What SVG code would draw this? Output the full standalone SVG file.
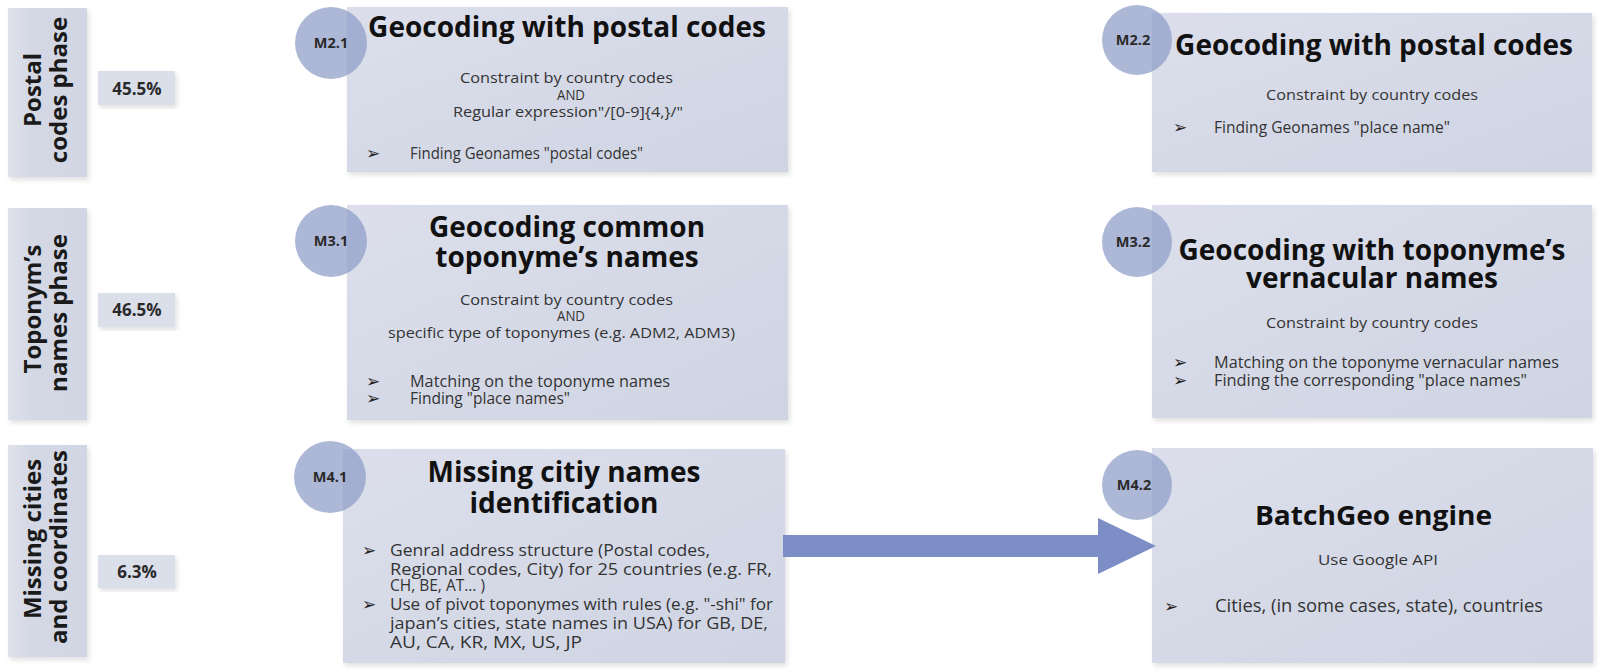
<svg xmlns="http://www.w3.org/2000/svg" width="1605" height="671" viewBox="0 0 1605 671">
<defs>
<linearGradient id="boxg" x1="0" y1="0" x2="1" y2="1">
<stop offset="0" stop-color="#dcdfeb"/>
<stop offset="1" stop-color="#cfd4e3"/>
</linearGradient>
<linearGradient id="phg" x1="0" y1="0" x2="1" y2="0">
<stop offset="0" stop-color="#dfe2ec"/>
<stop offset="0.3" stop-color="#d4d8e5"/>
<stop offset="1" stop-color="#d2d6e4"/>
</linearGradient>
<filter id="sh" x="-5%" y="-5%" width="115%" height="115%">
<feDropShadow dx="2" dy="3" stdDeviation="2.5" flood-color="#000" flood-opacity="0.12"/>
</filter>
</defs>
<style>
.box{fill:url(#boxg);filter:url(#sh)}
.phase{fill:url(#phg);filter:url(#sh)}
.pct{fill:#dbdfea;filter:url(#sh)}
.circ{fill:#8e9cc8;opacity:0.72}
.ph{font-family:"Open Sans","Liberation Sans",sans-serif;font-weight:bold;font-size:24px;fill:#1a1a1a;text-anchor:middle}
.pt{font-family:"Open Sans","Liberation Sans",sans-serif;font-weight:bold;font-size:17px;fill:#2a2a2a;text-anchor:middle}
.cl{font-family:"Open Sans","Liberation Sans",sans-serif;font-weight:bold;font-size:14.5px;fill:#2a2a2a;text-anchor:middle}
.ti{font-family:"Open Sans","Liberation Sans",sans-serif;font-weight:bold;font-size:28px;fill:#111;text-anchor:middle}
.bd{font-family:"Open Sans","Liberation Sans",sans-serif;font-size:15px;fill:#333}
.bl{font-family:"Open Sans","Liberation Sans",sans-serif;font-size:15.5px;fill:#333}
.ar{font-family:"DejaVu Sans",sans-serif;font-size:17px;fill:#222}
.arrow{fill:#7d8ec6}
</style>

<g id="phase-postal">
<rect class="phase" x="8" y="8" width="79" height="169"/>
<text class="ph" transform="translate(41,90) rotate(-90)">Postal</text>
<text class="ph" transform="translate(67,90) rotate(-90)">codes phase</text>
</g>
<g id="pct-postal">
<rect class="pct" x="98" y="71" width="77" height="34"/>
<text class="pt" x="137" y="95">45.5%</text>
</g>

<g id="phase-toponym">
<rect class="phase" x="8" y="208" width="79" height="212"/>
<text class="ph" transform="translate(41,309) rotate(-90)">Toponym’s</text>
<text class="ph" transform="translate(67,313) rotate(-90)">names phase</text>
</g>
<g id="pct-toponym">
<rect class="pct" x="98" y="293" width="77" height="34"/>
<text class="pt" x="137" y="316">46.5%</text>
</g>

<g id="phase-missing">
<rect class="phase" x="8" y="445" width="79" height="212"/>
<text class="ph" transform="translate(41,539) rotate(-90)">Missing cities</text>
<text class="ph" transform="translate(67,547) rotate(-90)">and coordinates</text>
</g>
<g id="pct-missing">
<rect class="pct" x="98" y="555" width="77" height="33"/>
<text class="pt" x="137" y="578">6.3%</text>
</g>

<g id="M2.1">
<rect class="box" x="347" y="7" width="441" height="165"/>
<circle class="circ" cx="331" cy="43" r="36"/>
<text class="cl" x="331" y="48">M2.1</text>
<text class="ti" x="567" y="37">Geocoding with postal codes</text>
<text class="bd" x="460" y="83" textLength="213" lengthAdjust="spacingAndGlyphs">Constraint by country codes</text>
<text class="bd" x="557" y="100" textLength="28" lengthAdjust="spacingAndGlyphs">AND</text>
<text class="bd" x="453" y="117" textLength="230" lengthAdjust="spacingAndGlyphs">Regular expression"/[0-9]{4,}/"</text>
<text class="ar" x="366" y="159">➢</text>
<text class="bl" x="410" y="159" textLength="233" lengthAdjust="spacingAndGlyphs">Finding Geonames "postal codes"</text>
</g>

<g id="M2.2">
<rect class="box" x="1152" y="13" width="440" height="159"/>
<circle class="circ" cx="1137" cy="40" r="35"/>
<text class="cl" x="1133" y="45">M2.2</text>
<text class="ti" x="1374" y="55">Geocoding with postal codes</text>
<text class="bd" x="1266" y="100" textLength="212" lengthAdjust="spacingAndGlyphs">Constraint by country codes</text>
<text class="ar" x="1173" y="133">➢</text>
<text class="bl" x="1214" y="133" textLength="236" lengthAdjust="spacingAndGlyphs">Finding Geonames "place name"</text>
</g>

<g id="M3.1">
<rect class="box" x="347" y="205" width="441" height="215"/>
<circle class="circ" cx="331" cy="241" r="36"/>
<text class="cl" x="331" y="246">M3.1</text>
<text class="ti" x="567" y="237">Geocoding common</text>
<text class="ti" x="567" y="267">toponyme’s names</text>
<text class="bd" x="460" y="305" textLength="213" lengthAdjust="spacingAndGlyphs">Constraint by country codes</text>
<text class="bd" x="557" y="321" textLength="28" lengthAdjust="spacingAndGlyphs">AND</text>
<text class="bd" x="388" y="338" textLength="347" lengthAdjust="spacingAndGlyphs">specific type of toponymes (e.g. ADM2, ADM3)</text>
<text class="ar" x="366" y="387">➢</text>
<text class="bl" x="410" y="387" textLength="260" lengthAdjust="spacingAndGlyphs">Matching on the toponyme names</text>
<text class="ar" x="366" y="404">➢</text>
<text class="bl" x="410" y="404" textLength="160" lengthAdjust="spacingAndGlyphs">Finding "place names"</text>
</g>

<g id="M3.2">
<rect class="box" x="1152" y="205" width="440" height="213"/>
<circle class="circ" cx="1137" cy="242" r="35"/>
<text class="cl" x="1133" y="247">M3.2</text>
<text class="ti" x="1372" y="260">Geocoding with toponyme’s</text>
<text class="ti" x="1372" y="288">vernacular names</text>
<text class="bd" x="1266" y="328" textLength="212" lengthAdjust="spacingAndGlyphs">Constraint by country codes</text>
<text class="ar" x="1173" y="368">➢</text>
<text class="bl" x="1214" y="368" style="font-size:16.5px" textLength="345" lengthAdjust="spacingAndGlyphs">Matching on the toponyme vernacular names</text>
<text class="ar" x="1173" y="386">➢</text>
<text class="bl" x="1214" y="386" style="font-size:16.5px" textLength="313" lengthAdjust="spacingAndGlyphs">Finding the corresponding "place names"</text>
</g>

<g id="M4.1">
<rect class="box" x="343" y="449" width="442" height="214"/>
<circle class="circ" cx="330" cy="477" r="36"/>
<text class="cl" x="330" y="482">M4.1</text>
<text class="ti" x="564" y="482">Missing citiy names</text>
<text class="ti" x="564" y="513">identification</text>
<text class="ar" x="362" y="556">➢</text>
<text class="bl" x="390" y="556" textLength="320" lengthAdjust="spacingAndGlyphs">Genral  address structure (Postal codes,</text>
<text class="bl" x="390" y="575" textLength="382" lengthAdjust="spacingAndGlyphs">Regional codes, City) for 25 countries (e.g. FR,</text>
<text class="bl" x="390" y="591">CH, BE, AT... )</text>
<text class="ar" x="362" y="610">➢</text>
<text class="bl" x="390" y="610" textLength="383" lengthAdjust="spacingAndGlyphs">Use of pivot toponymes with rules (e.g. "-shi" for</text>
<text class="bl" x="390" y="629" textLength="378" lengthAdjust="spacingAndGlyphs">japan’s cities, state names in USA) for GB, DE,</text>
<text class="bl" x="390" y="648" textLength="192" lengthAdjust="spacingAndGlyphs">AU, CA, KR, MX, US, JP</text>
</g>

<g id="M4.2">
<rect class="box" x="1152" y="448" width="441" height="215"/>
<circle class="circ" cx="1137" cy="485" r="35"/>
<text class="cl" x="1134" y="490">M4.2</text>
<text class="ti" x="1255" y="525" style="text-anchor:start;font-size:27px" textLength="237" lengthAdjust="spacingAndGlyphs">BatchGeo engine</text>
<text class="bd" x="1318" y="565" textLength="120" lengthAdjust="spacingAndGlyphs">Use Google API</text>
<text class="ar" x="1164" y="612">➢</text>
<text class="bl" x="1215" y="612" style="font-size:18px" textLength="328" lengthAdjust="spacingAndGlyphs">Cities, (in some cases, state), countries</text>
</g>

<g id="connectors">
<polygon class="arrow" points="783,535 1098,535 1098,518 1156,546 1098,574 1098,557 783,557"/>
</g>
</svg>
